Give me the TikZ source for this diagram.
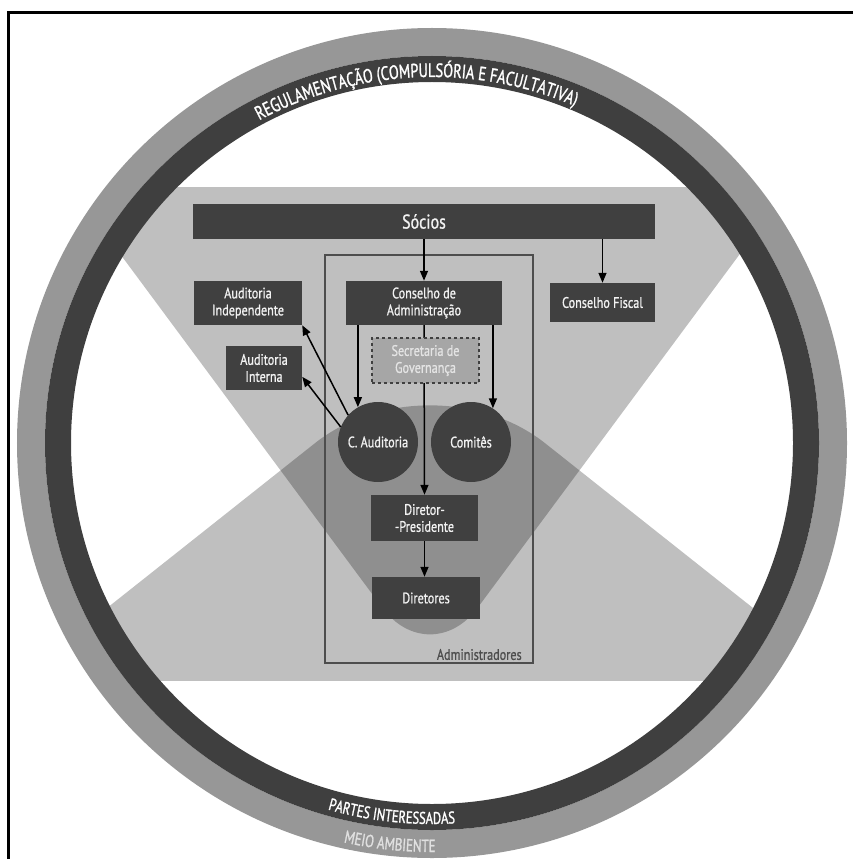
\documentclass[tikz,border=0pt]{standalone}
\usepackage{fontspec}
\setmainfont{PT Sans}[FakeStretch=0.8,FakeBold=0.9]
\newfontfamily\ringfont{PT Sans}[FakeStretch=0.74,FakeBold=1.2]
\usepackage{xcolor}
\definecolor{cBox}{HTML}{404040}
\definecolor{cRingOut}{HTML}{979797}
\definecolor{cRingIn}{HTML}{3F3F3F}
\definecolor{cSec}{HTML}{A6A6A6}
\definecolor{cSecText}{HTML}{E4E4E4}
\definecolor{cFrame}{HTML}{4D4D4D}
\usetikzlibrary{positioning,arrows.meta,decorations.text}
\tikzset{
  node-box/.style={fill=cBox,text=white!95!black,inner sep=0pt,align=center,
    font=\fontsize{13}{14.5}\selectfont},
  node-circ/.style={node-box,circle,minimum size=2.4cm},
  node-sec/.style={node-box,fill=cSec,draw=cBox,dashed,line width=0.4mm,
    dash pattern=on 1mm off 0.8mm,text=cSecText},
  node-frame/.style={draw=cFrame,line width=0.55mm,inner sep=0pt},
  arrow/.style={-{Triangle[length=3mm,width=2.4mm]},line width=0.45mm,draw=black},
  shade-x/.style={fill=black,fill opacity=0.25},
  ring-out/.style={draw=cRingOut,line width=8.4mm},
  ring-in/.style={draw=cRingIn,line width=7.8mm},
}

\begin{document}
\begin{tikzpicture}[x=0.3mm,y=-0.3mm]
  \useasboundingbox (0,0) rectangle (853,859);
  % moldura
  \draw[line width=0.9mm] (8.5,859) |- (853,13);
  % ampulheta (duas formas sobrepostas)
  \begin{scope}
    \clip (432,443) circle[radius=387];
    \clip (0,188) rectangle (853,680);
    \fill[shade-x,rounded corners=2.4cm] (6,100) -- (430,672) -- (854,100) -- cycle;
    \fill[shade-x,rounded corners=4.4cm] (-110,780) -- (430,352) -- (970,780) -- cycle;
  \end{scope}
  % anel externo
  \draw[ring-out] (432,443) circle[radius=401];
  \draw[ring-in] (432,443) circle[radius=374];
  \path[decorate,decoration={text along path,text align=center,
    text={|\ringfont\fontsize{16.5}{16.5}\selectfont\color{white}|REGULAMENTAÇÃO (COMPULSÓRIA E FACULTATIVA)}}]
    (432,443) ++(-152.6:366) arc[start angle=-152.6,end angle=-32.6,radius=366];
  \path[decorate,decoration={text along path,text align=center,
    text={|\ringfont\fontsize{14.5}{14.5}\selectfont\color{white}|PARTES INTERESSADAS}}]
    (432,443) ++(133.2:381) arc[start angle=133.2,end angle=59.2,radius=381];
  \path[decorate,decoration={text along path,text align=center,
    text={|\ringfont\fontsize{15}{15}\selectfont\color{white!88!black}|MEIO AMBIENTE}}]
    (432,443) ++(133:409) arc[start angle=133,end angle=59,radius=409];

  % administradores
  \node[node-frame,minimum width=6.24cm,minimum height=12.24cm] (adm) at (429,459) {};
  \node[anchor=south east,inner xsep=3.6mm,inner ysep=1.1mm,text=cFrame,
    font=\fontsize{13}{13}\selectfont] (admlbl) at (adm.south east) {Administradores};

  \node[node-box,minimum width=13.86cm,minimum height=1.05cm,
    font=\fontsize{17}{17}\selectfont] (socios) at (424,221.5) {Sócios};
  \node[node-box,minimum width=4.68cm,minimum height=1.32cm] (cda) at (424,303)
    {Conselho de\\Administração};
  \node[node-box,minimum width=3.15cm,minimum height=1.17cm] (cfiscal) at (602.5,302.5)
    {Conselho Fiscal};
  \node[node-box,minimum width=3.24cm,minimum height=1.32cm] (aind) at (248,303)
    {Auditoria\\Independente};
  \node[node-box,minimum width=2.28cm,minimum height=1.32cm] (aint) at (264,368)
    {Auditoria\\Interna};
  \node[node-circ] (cau) at (378,442) {C. Auditoria};
  \node[node-circ] (com) at (471,442) {Comitês};
  \node[node-box,minimum width=3.21cm,minimum height=1.38cm] (dp) at (424.5,518)
    {Diretor-\\-Presidente};
  \node[node-box,minimum width=3.24cm,minimum height=1.26cm] (dir) at (426,598)
    {Diretores};

  \draw[arrow] (cda.south) -- (dp.north);
  \node[node-sec,minimum width=3.21cm,minimum height=1.35cm] (sec) at (425.5,360.5)
    {Secretaria de\\Governança};

  \draw[arrow] (socios.south -| cda.north) -- (cda.north);
  \draw[arrow] (socios.south -| cfiscal.north) -- (cfiscal.north);
  \draw[arrow] (cda.south -| cau.120) -- (cau.120);
  \draw[arrow] (cda.south -| com.57) -- (com.57);
  \draw[arrow] (cau.138) -- (aind.south east);
  \draw[arrow] (cau.158) -- (aint.-13);
  \draw[arrow] (dp.south) -- (dp.south |- dir.north);
\end{tikzpicture}
\end{document}
